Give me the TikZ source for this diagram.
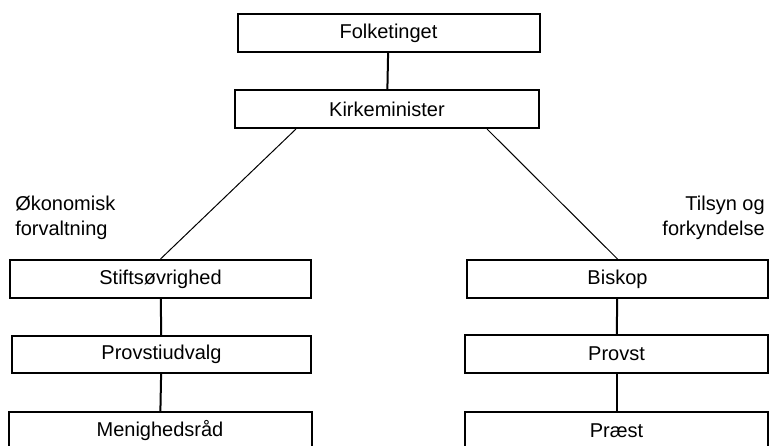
\documentclass[tikz,border=0pt]{standalone}
\usepackage{fontspec}
\setmainfont{Liberation Sans}
\usepackage{tikz}

\begin{document}
\begin{tikzpicture}[x=0.75pt, y=-0.75pt,
    every node/.style={font=\fontsize{15}{18.75}\selectfont},
    orgbox/.style={draw, line width=1.5pt, inner sep=0pt, minimum height=28.5pt},
    link/.style={line width=1.5pt},
    slant/.style={line width=0.75pt}]
    \useasboundingbox (0, 0) rectangle (769, 446);
    \node[orgbox, minimum width=226.5pt] (folk) at (388.5, 33) {Folketinget};
    \node[orgbox, minimum width=228pt] (kirke) at (387, 109) {Kirkeminister};
    \node[orgbox, minimum width=225.75pt] (stift) at (160.5, 279) {Stiftsøvrighed};
    \node[orgbox, minimum width=224.25pt, minimum height=27.75pt] (udvalg) at (161.5, 354.5) {Provstiudvalg};
    \node[orgbox, minimum width=227.25pt] (menig) at (160, 431) {Menighedsråd};
    \node[orgbox, minimum width=225.75pt] (biskop) at (617.5, 279) {Biskop};
    \node[orgbox, minimum width=227.25pt] (provst) at (616.5, 354) {Provst};
    \node[orgbox, minimum width=227.25pt] (praest) at (616.5, 431) {Præst};
    \node[align=left, anchor=north west, inner sep=0pt] (okonomi) at (15, 196) {Økonomisk\\forvaltning};
    \node[align=right, anchor=north east, inner sep=0pt] (tilsyn) at (765, 196) {Tilsyn og\\forkyndelse};
    \draw[link] (folk) -- (kirke);
    \draw[slant] ([xshift=-68.25pt]kirke.south) -- (stift.north);
    \draw[slant] ([xshift=75pt]kirke.south) -- (biskop.north);
    \draw[link] (stift) -- (udvalg);
    \draw[link] (udvalg) -- (menig);
    \draw[link] (biskop) -- (provst);
    \draw[link] (provst) -- (praest);
\end{tikzpicture}
\end{document}
